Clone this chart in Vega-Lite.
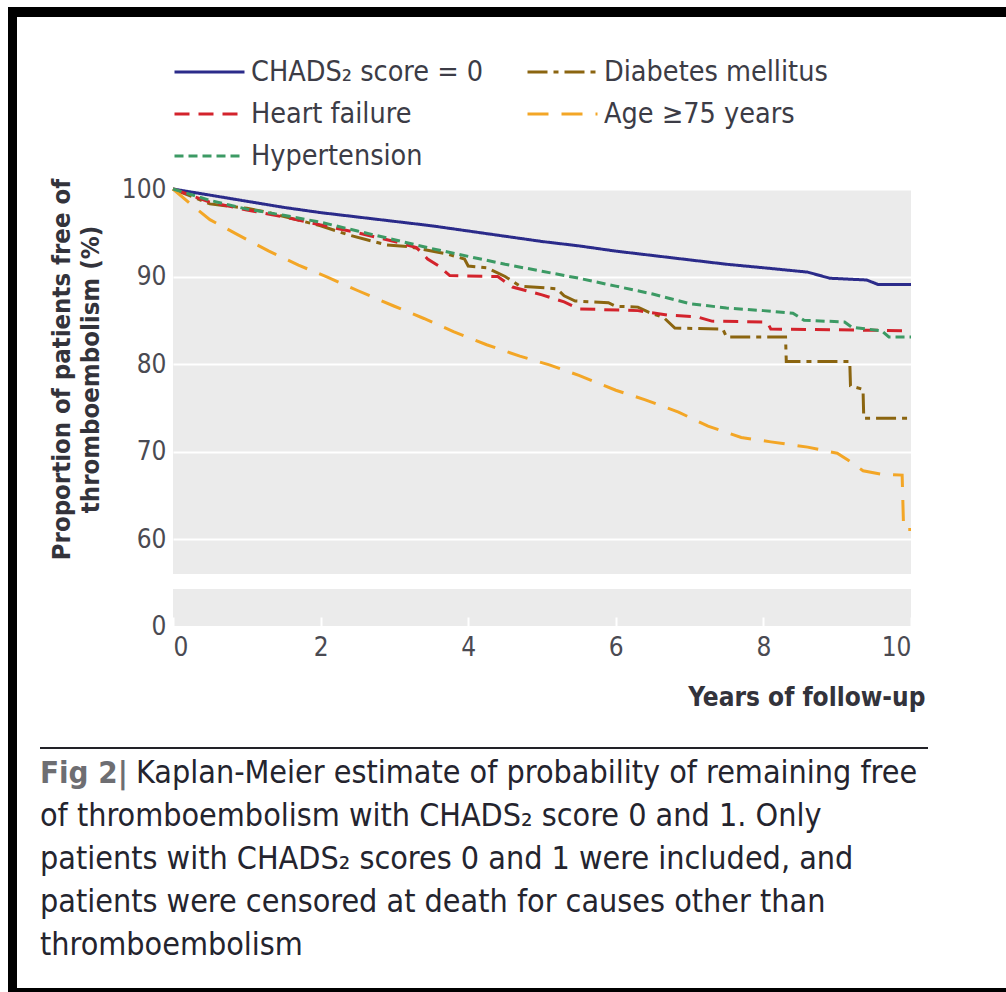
{
  "$schema": "https://vega.github.io/schema/vega-lite/v6.json",
  "background": "white",
  "padding": {"left": 8, "top": 7, "right": 0, "bottom": 0},
  "spacing": 0,
  "config": {
    "view": {"stroke": null},
    "font": "DejaVu Sans Condensed",
    "axis": {
      "labelFont": "DejaVu Sans Condensed",
      "labelFontSize": 26,
      "labelColor": "#4a4a52",
      "titleFont": "DejaVu Sans Condensed",
      "titleColor": "#33333b",
      "domain": false
    },
    "legend": {
      "orient": "top",
      "direction": "horizontal",
      "columns": 2,
      "symbolType": "stroke",
      "symbolSize": 4900,
      "symbolStrokeWidth": 3,
      "clipHeight": 30,
      "labelFont": "DejaVu Sans Condensed",
      "labelFontSize": 28.5,
      "labelColor": "#3c3c46",
      "labelOffset": 5,
      "labelLimit": 500,
      "columnPadding": 42,
      "rowPadding": 12,
      "offset": 12,
      "padding": 0
    }
  },
  "datasets": {
    "curves": [
      {"group": "CHADS₂ score = 0", "year": 0, "pct": 100},
      {"group": "CHADS₂ score = 0", "year": 0.5, "pct": 99.3},
      {"group": "CHADS₂ score = 0", "year": 1, "pct": 98.6},
      {"group": "CHADS₂ score = 0", "year": 1.5, "pct": 97.9},
      {"group": "CHADS₂ score = 0", "year": 2, "pct": 97.3},
      {"group": "CHADS₂ score = 0", "year": 2.5, "pct": 96.8},
      {"group": "CHADS₂ score = 0", "year": 3, "pct": 96.3},
      {"group": "CHADS₂ score = 0", "year": 3.5, "pct": 95.8},
      {"group": "CHADS₂ score = 0", "year": 4, "pct": 95.2},
      {"group": "CHADS₂ score = 0", "year": 4.5, "pct": 94.6},
      {"group": "CHADS₂ score = 0", "year": 5, "pct": 94.0},
      {"group": "CHADS₂ score = 0", "year": 5.5, "pct": 93.5},
      {"group": "CHADS₂ score = 0", "year": 6, "pct": 92.9},
      {"group": "CHADS₂ score = 0", "year": 6.5, "pct": 92.4},
      {"group": "CHADS₂ score = 0", "year": 7, "pct": 91.9},
      {"group": "CHADS₂ score = 0", "year": 7.5, "pct": 91.4},
      {"group": "CHADS₂ score = 0", "year": 8, "pct": 91.0},
      {"group": "CHADS₂ score = 0", "year": 8.6, "pct": 90.5},
      {"group": "CHADS₂ score = 0", "year": 8.9, "pct": 89.8},
      {"group": "CHADS₂ score = 0", "year": 9.4, "pct": 89.6},
      {"group": "CHADS₂ score = 0", "year": 9.55, "pct": 89.1},
      {"group": "CHADS₂ score = 0", "year": 10, "pct": 89.1},

      {"group": "Diabetes mellitus", "year": 0, "pct": 100},
      {"group": "Diabetes mellitus", "year": 0.5, "pct": 98.3},
      {"group": "Diabetes mellitus", "year": 1, "pct": 97.8},
      {"group": "Diabetes mellitus", "year": 1.3, "pct": 97.3},
      {"group": "Diabetes mellitus", "year": 2, "pct": 95.8},
      {"group": "Diabetes mellitus", "year": 2.4, "pct": 94.7},
      {"group": "Diabetes mellitus", "year": 2.9, "pct": 93.6},
      {"group": "Diabetes mellitus", "year": 3.2, "pct": 93.4},
      {"group": "Diabetes mellitus", "year": 3.7, "pct": 92.6},
      {"group": "Diabetes mellitus", "year": 3.95, "pct": 92.0},
      {"group": "Diabetes mellitus", "year": 4, "pct": 91.2},
      {"group": "Diabetes mellitus", "year": 4.25, "pct": 91.0},
      {"group": "Diabetes mellitus", "year": 4.5, "pct": 90.0},
      {"group": "Diabetes mellitus", "year": 4.7, "pct": 88.9},
      {"group": "Diabetes mellitus", "year": 5.2, "pct": 88.6},
      {"group": "Diabetes mellitus", "year": 5.3, "pct": 87.8},
      {"group": "Diabetes mellitus", "year": 5.45, "pct": 87.2},
      {"group": "Diabetes mellitus", "year": 5.9, "pct": 87.0},
      {"group": "Diabetes mellitus", "year": 6, "pct": 86.6},
      {"group": "Diabetes mellitus", "year": 6.3, "pct": 86.5},
      {"group": "Diabetes mellitus", "year": 6.45, "pct": 85.9},
      {"group": "Diabetes mellitus", "year": 6.65, "pct": 85.3},
      {"group": "Diabetes mellitus", "year": 6.8, "pct": 84.1},
      {"group": "Diabetes mellitus", "year": 7.45, "pct": 84.0},
      {"group": "Diabetes mellitus", "year": 7.5, "pct": 83.1},
      {"group": "Diabetes mellitus", "year": 8.3, "pct": 83.1},
      {"group": "Diabetes mellitus", "year": 8.31, "pct": 80.3},
      {"group": "Diabetes mellitus", "year": 9.17, "pct": 80.3},
      {"group": "Diabetes mellitus", "year": 9.18, "pct": 77.5},
      {"group": "Diabetes mellitus", "year": 9.35, "pct": 77.1},
      {"group": "Diabetes mellitus", "year": 9.36, "pct": 73.8},
      {"group": "Diabetes mellitus", "year": 10, "pct": 73.8},

      {"group": "Heart failure", "year": 0, "pct": 100},
      {"group": "Heart failure", "year": 0.5, "pct": 98.5},
      {"group": "Heart failure", "year": 1, "pct": 97.6},
      {"group": "Heart failure", "year": 1.5, "pct": 96.8},
      {"group": "Heart failure", "year": 2, "pct": 95.9},
      {"group": "Heart failure", "year": 2.5, "pct": 95.0},
      {"group": "Heart failure", "year": 3, "pct": 94.0},
      {"group": "Heart failure", "year": 3.3, "pct": 93.3},
      {"group": "Heart failure", "year": 3.45, "pct": 92.0},
      {"group": "Heart failure", "year": 3.6, "pct": 91.2},
      {"group": "Heart failure", "year": 3.75, "pct": 90.1},
      {"group": "Heart failure", "year": 4.4, "pct": 90.0},
      {"group": "Heart failure", "year": 4.6, "pct": 88.8},
      {"group": "Heart failure", "year": 5, "pct": 87.9},
      {"group": "Heart failure", "year": 5.3, "pct": 87.1},
      {"group": "Heart failure", "year": 5.5, "pct": 86.3},
      {"group": "Heart failure", "year": 6.3, "pct": 86.1},
      {"group": "Heart failure", "year": 6.7, "pct": 85.6},
      {"group": "Heart failure", "year": 7.1, "pct": 85.4},
      {"group": "Heart failure", "year": 7.3, "pct": 84.9},
      {"group": "Heart failure", "year": 8.05, "pct": 84.8},
      {"group": "Heart failure", "year": 8.1, "pct": 84.0},
      {"group": "Heart failure", "year": 10, "pct": 83.8},

      {"group": "Age ≥75 years", "year": 0, "pct": 100},
      {"group": "Age ≥75 years", "year": 0.25, "pct": 98.2},
      {"group": "Age ≥75 years", "year": 0.5, "pct": 96.5},
      {"group": "Age ≥75 years", "year": 0.85, "pct": 94.9},
      {"group": "Age ≥75 years", "year": 1.3, "pct": 92.9},
      {"group": "Age ≥75 years", "year": 1.7, "pct": 91.3},
      {"group": "Age ≥75 years", "year": 2.1, "pct": 89.9},
      {"group": "Age ≥75 years", "year": 2.5, "pct": 88.4},
      {"group": "Age ≥75 years", "year": 3, "pct": 86.6},
      {"group": "Age ≥75 years", "year": 3.4, "pct": 85.2},
      {"group": "Age ≥75 years", "year": 3.8, "pct": 83.7},
      {"group": "Age ≥75 years", "year": 4.25, "pct": 82.2},
      {"group": "Age ≥75 years", "year": 4.7, "pct": 80.9},
      {"group": "Age ≥75 years", "year": 5.1, "pct": 79.9},
      {"group": "Age ≥75 years", "year": 5.5, "pct": 78.7},
      {"group": "Age ≥75 years", "year": 6, "pct": 77.0},
      {"group": "Age ≥75 years", "year": 6.4, "pct": 75.9},
      {"group": "Age ≥75 years", "year": 6.85, "pct": 74.5},
      {"group": "Age ≥75 years", "year": 7.25, "pct": 72.9},
      {"group": "Age ≥75 years", "year": 7.7, "pct": 71.6},
      {"group": "Age ≥75 years", "year": 8.1, "pct": 71.1},
      {"group": "Age ≥75 years", "year": 8.6, "pct": 70.5},
      {"group": "Age ≥75 years", "year": 9, "pct": 69.8},
      {"group": "Age ≥75 years", "year": 9.15, "pct": 69.0},
      {"group": "Age ≥75 years", "year": 9.35, "pct": 67.8},
      {"group": "Age ≥75 years", "year": 9.6, "pct": 67.4},
      {"group": "Age ≥75 years", "year": 9.88, "pct": 67.3},
      {"group": "Age ≥75 years", "year": 9.9, "pct": 61.1},
      {"group": "Age ≥75 years", "year": 10, "pct": 61.1},

      {"group": "Hypertension", "year": 0, "pct": 100},
      {"group": "Hypertension", "year": 0.5, "pct": 98.7},
      {"group": "Hypertension", "year": 1, "pct": 97.7},
      {"group": "Hypertension", "year": 1.5, "pct": 97.0},
      {"group": "Hypertension", "year": 2, "pct": 96.2},
      {"group": "Hypertension", "year": 2.5, "pct": 95.2},
      {"group": "Hypertension", "year": 3, "pct": 94.2},
      {"group": "Hypertension", "year": 3.5, "pct": 93.2},
      {"group": "Hypertension", "year": 4, "pct": 92.3},
      {"group": "Hypertension", "year": 4.5, "pct": 91.4},
      {"group": "Hypertension", "year": 5, "pct": 90.6},
      {"group": "Hypertension", "year": 5.5, "pct": 89.8},
      {"group": "Hypertension", "year": 6, "pct": 88.9},
      {"group": "Hypertension", "year": 6.5, "pct": 88.0},
      {"group": "Hypertension", "year": 7, "pct": 86.9},
      {"group": "Hypertension", "year": 7.5, "pct": 86.4},
      {"group": "Hypertension", "year": 8, "pct": 86.1},
      {"group": "Hypertension", "year": 8.4, "pct": 85.8},
      {"group": "Hypertension", "year": 8.55, "pct": 85.0},
      {"group": "Hypertension", "year": 9.1, "pct": 84.8},
      {"group": "Hypertension", "year": 9.2, "pct": 84.2},
      {"group": "Hypertension", "year": 9.6, "pct": 83.8},
      {"group": "Hypertension", "year": 9.7, "pct": 83.1},
      {"group": "Hypertension", "year": 10, "pct": 83.1}
    ],
    "caption": [
      {"line": 1, "tag": "Fig 2|", "text": "Kaplan-Meier estimate of probability of remaining free"},
      {"line": 2, "text": "of thromboembolism with CHADS₂ score 0 and 1. Only"},
      {"line": 3, "text": "patients with CHADS₂ scores 0 and 1 were included, and"},
      {"line": 4, "text": "patients were censored at death for causes other than"},
      {"line": 5, "text": "thromboembolism"}
    ]
  },
  "vconcat": [
    {
      "width": 1000, "height": 10,
      "view": {"fill": "black"},
      "data": {"values": []},
      "mark": "rect",
      "encoding": {}
    },
    {
      "spacing": 22,
      "hconcat": [
        {
          "width": 9, "height": 971,
          "view": {"fill": "black"},
          "data": {"values": []},
          "mark": "rect",
          "encoding": {}
        },
        {
          "spacing": 37,
          "vconcat": [
            {
              "width": 1, "height": 3,
              "data": {"values": []},
              "mark": "rect",
              "encoding": {}
            },
            {
              "spacing": 8,
              "hconcat": [
                {
                  "width": 1, "height": 1,
                  "data": {"values": []},
                  "mark": "rect",
                  "encoding": {}
                },
                {
                  "spacing": 15,
                  "resolve": {
                    "scale": {"x": "independent", "y": "independent"},
                    "legend": {"color": "independent", "strokeDash": "independent"}
                  },
                  "vconcat": [
                    {
                      "width": 738, "height": 385,
                      "view": {"fill": "#ebebeb"},
                      "data": {"name": "curves"},
                      "mark": {"type": "line", "strokeWidth": 3},
                      "encoding": {
                        "x": {
                          "field": "year", "type": "quantitative",
                          "scale": {"domain": [0, 10], "nice": false},
                          "axis": null
                        },
                        "y": {
                          "field": "pct", "type": "quantitative",
                          "scale": {"domain": [56, 100], "nice": false, "zero": false},
                          "axis": {
                            "values": [60, 70, 80, 90, 100],
                            "ticks": false,
                            "grid": true,
                            "gridColor": "white",
                            "gridWidth": 2,
                            "labelPadding": 7,
                            "title": ["Proportion of patients free of", "thromboembolism (%)"],
                            "titleFontSize": 25.5,
                            "titleFontWeight": "bold",
                            "titleLineHeight": 29,
                            "titlePadding": 18,
                            "titleY": 180
                          }
                        },
                        "color": {
                          "field": "group", "type": "nominal", "title": null,
                          "scale": {
                            "domain": ["CHADS₂ score = 0", "Diabetes mellitus", "Heart failure", "Age ≥75 years", "Hypertension"],
                            "range": ["#2b2b8a", "#8b6510", "#d3232c", "#f3a626", "#3c9a64"]
                          }
                        },
                        "strokeDash": {
                          "field": "group", "type": "nominal", "title": null,
                          "scale": {
                            "domain": ["CHADS₂ score = 0", "Diabetes mellitus", "Heart failure", "Age ≥75 years", "Hypertension"],
                            "range": [[1, 0], [20, 6, 5, 6], [15, 9], [21, 13], [9, 5]]
                          }
                        }
                      }
                    },
                    {
                      "width": 738, "height": 37,
                      "view": {"fill": "#ebebeb"},
                      "data": {"values": []},
                      "mark": "point",
                      "encoding": {
                        "x": {
                          "field": "year", "type": "quantitative",
                          "scale": {"domain": [0, 10], "nice": false},
                          "axis": {
                            "values": [0, 2, 4, 6, 8, 10],
                            "grid": false,
                            "ticks": true,
                            "tickColor": "white",
                            "tickWidth": 2,
                            "tickSize": -9,
                            "labelPadding": 17,
                            "title": "Years of follow-up",
                            "titleFontSize": 26,
                            "titleFontWeight": "bold",
                            "titleX": 752,
                            "titleY": 71,
                            "titleAlign": "right",
                            "titleBaseline": "middle"
                          }
                        },
                        "y": {
                          "field": "pct", "type": "quantitative",
                          "scale": {"domain": [0, 4.23], "nice": false},
                          "axis": {
                            "values": [0],
                            "ticks": false,
                            "grid": false,
                            "labelPadding": 7,
                            "title": null
                          }
                        }
                      }
                    }
                  ]
                }
              ]
            },
            {
              "width": 888, "height": 215,
              "data": {"name": "caption"},
              "encoding": {
                "y": {
                  "field": "line", "type": "quantitative",
                  "scale": {"domain": [0, 5], "reverse": true},
                  "axis": null
                }
              },
              "layer": [
                {
                  "transform": [{"filter": "datum.line == 1"}],
                  "mark": {"type": "rule", "color": "#222228", "strokeWidth": 2},
                  "encoding": {"y": {"datum": 0, "type": "quantitative"}}
                },
                {
                  "transform": [{"filter": "datum.line == 1"}],
                  "mark": {"type": "text", "align": "left", "baseline": "alphabetic", "dy": -8, "fontSize": 31, "fontWeight": "bold", "color": "#6e6e72"},
                  "encoding": {
                    "x": {"datum": 0, "type": "quantitative", "scale": {"domain": [0, 1]}, "axis": null},
                    "text": {"field": "tag"}
                  }
                },
                {
                  "transform": [{"filter": "datum.line == 1"}],
                  "mark": {"type": "text", "align": "left", "baseline": "alphabetic", "dy": -8, "dx": 96, "fontSize": 32, "color": "#24242e"},
                  "encoding": {
                    "x": {"datum": 0, "type": "quantitative", "scale": {"domain": [0, 1]}, "axis": null},
                    "text": {"field": "text"}
                  }
                },
                {
                  "transform": [{"filter": "datum.line > 1"}],
                  "mark": {"type": "text", "align": "left", "baseline": "alphabetic", "dy": -8, "fontSize": 32, "color": "#24242e"},
                  "encoding": {
                    "x": {"datum": 0, "type": "quantitative", "scale": {"domain": [0, 1]}, "axis": null},
                    "text": {"field": "text"}
                  }
                }
              ]
            }
          ]
        }
      ]
    },
    {
      "width": 1000, "height": 10,
      "view": {"fill": "black"},
      "data": {"values": []},
      "mark": "rect",
      "encoding": {}
    }
  ]
}
